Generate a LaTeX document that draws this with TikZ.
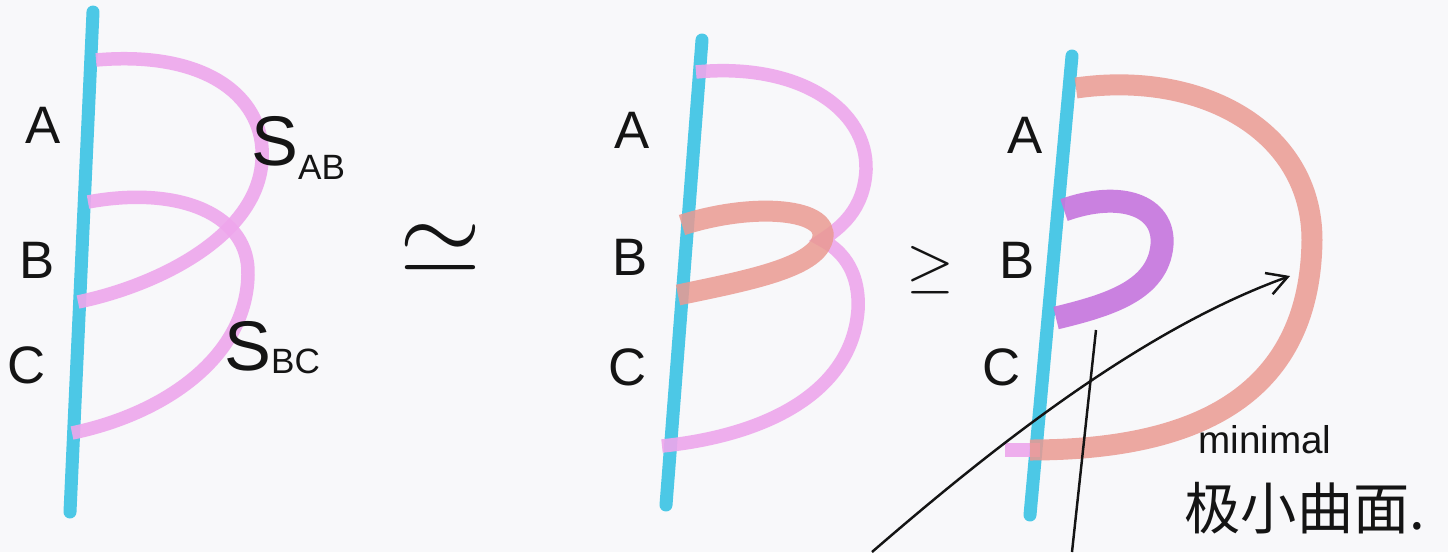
\documentclass[tikz,border=0pt]{standalone}
\usepackage{fontspec}
\setmainfont{Liberation Sans}
\newfontfamily\cjkfont{Noto Sans CJK SC}
\usetikzlibrary{arrows.meta}
\definecolor{paper}{HTML}{F8F8FA}
\definecolor{ink}{HTML}{141414}
\definecolor{markcyan}{HTML}{4CC8E6}
\definecolor{markpink}{HTML}{EEA6EC}
\definecolor{marksalmon}{HTML}{EA9A92}
\definecolor{markviolet}{HTML}{C675DE}
\tikzset{
  wire/.style={draw=markcyan,line width=0.26cm,line cap=round},
  film/.style={draw=markpink,line width=0.27cm,opacity=0.9},
  thickfilm/.style={draw=marksalmon,line width=0.42cm,opacity=0.85},
  smallfilm/.style={draw=markviolet,line width=0.46cm,opacity=0.9},
  ptlabel/.style={font=\fontsize{30}{30}\selectfont,text=ink,inner sep=0pt},
  relsign/.style={text=ink,inner sep=0pt},
  filmlabel/.style={font=\fontsize{40}{40}\selectfont,text=ink,inner sep=0pt,anchor=base west},
  notelabel/.style={text=ink,inner sep=0pt},
  inkline/.style={draw=ink,line width=1.4pt},
  inkarr/.style={inkline,-{Straight Barb[length=4mm,width=4.5mm,line width=1.4pt]}}
}

\begin{document}
\begin{tikzpicture}[x=0.02cm,y=-0.02cm]
  \fill[paper] (0,0) rectangle (1448,552);
  \useasboundingbox (0,0) rectangle (1448,552);

  % left: two films S_AB and S_BC
  \draw[wire] (93,12) -- (70,512);
  \draw[film] (96,60) .. controls (210,50) and (266,100) .. (262,160)
              .. controls (258,235) and (160,285) .. (78,302);
  \draw[film] (88,202) .. controls (180,185) and (250,215) .. (248,275)
              .. controls (246,360) and (160,415) .. (72,433);
  \node[ptlabel] (ptA1) at (43,125) {A};
  \node[ptlabel] (ptB1) at (37,260) {B};
  \node[ptlabel] (ptC1) at (27,365) {C};
  \node[filmlabel] (sab) at (251,165) {S\raisebox{-8pt}{\fontsize{20}{20}\selectfont AB}};
  \node[filmlabel] (sbc) at (224,370) {S\raisebox{-2pt}{\fontsize{20}{20}\selectfont BC}};

  \node[relsign] (simeq) at (440,249) {\scalebox{6}{$\simeq$}};

  % middle: same films, inner loop at B
  \draw[wire] (702,40) -- (666,505);
  \draw[film] (696,72) .. controls (800,62) and (868,110) .. (866,170)
              .. controls (864,210) and (840,228) .. (822,240)
              .. controls (845,252) and (860,275) .. (858,310)
              .. controls (852,390) and (770,435) .. (662,446);
  \draw[thickfilm] (682,225) .. controls (760,200) and (840,210) .. (820,245)
                   .. controls (805,270) and (740,282) .. (678,295);
  \node[ptlabel] (ptA2) at (632,130) {A};
  \node[ptlabel] (ptB2) at (630,257) {B};
  \node[ptlabel] (ptC2) at (628,367) {C};

  \node[relsign] (geq) at (930,270) {\scalebox{3.5}{$\geq$}};

  % right: minimal surface
  \draw[wire] (1072,56) -- (1030,515);
  \draw[film] (1005,450) -- (1040,450);
  \draw[thickfilm] (1076,88) .. controls (1200,70) and (1312,130) .. (1312,240)
                   .. controls (1310,400) and (1190,450) .. (1030,450);
  \draw[smallfilm] (1064,210) .. controls (1120,190) and (1165,205) .. (1162,245)
                   .. controls (1158,290) and (1110,305) .. (1056,318);
  \node[ptlabel] (ptA3) at (1025,135) {A};
  \node[ptlabel] (ptB3) at (1017,260) {B};
  \node[ptlabel] (ptC3) at (1002,367) {C};

  \coordinate (arrstart) at (872,552);
  \coordinate (arrend) at (1290,276);
  \draw[inkarr] (arrstart) .. controls (990,450) and (1140,330) .. (arrend);
  \coordinate (sticktop) at (1096,330);
  \coordinate (stickbot) at (1072,552);
  \draw[inkline] (sticktop) -- (stickbot);

  \node[notelabel,font=\fontsize{22}{22}\selectfont,anchor=base west] (minimal) at (1198,453) {minimal};
  \node[notelabel,font=\cjkfont\fontsize{32}{32}\selectfont] (jixiao) at (1305,508) {极小曲面.};
\end{tikzpicture}
\end{document}
